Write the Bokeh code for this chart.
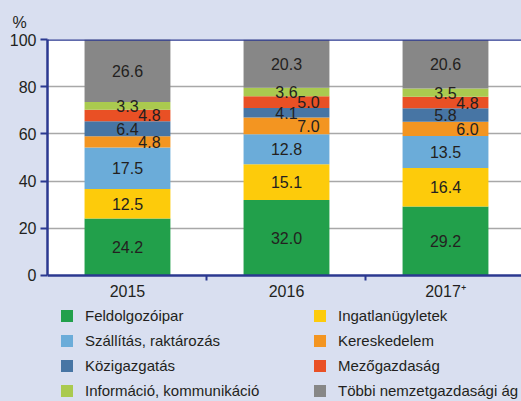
import numpy as np
import pandas as pd
from bokeh.plotting import figure
from bokeh.models import (ColumnDataSource, Legend, LegendItem, FixedTicker,
                          Range1d, Span, BoxAnnotation)
from bokeh.embed import file_html
from bokeh.resources import INLINE
from bokeh.core.properties import value

# ---------------- data ----------------
years = ["2015", "2016", "2017⁺"]
sectors = ["Feldolgozóipar", "Ingatlanügyletek", "Szállítás, raktározás",
           "Kereskedelem", "Közigazgatás", "Mezőgazdaság",
           "Információ, kommunikáció", "Többi nemzetgazdasági ág"]
feldolgozoipar = [24.2, 32.0, 29.2]
ingatlanugyletek = [12.5, 15.1, 16.4]
szallitas = [17.5, 12.8, 13.5]
kereskedelem = [4.8, 7.0, 6.0]
kozigazgatas = [6.4, 4.1, 5.8]
mezogazdasag = [4.8, 5.0, 4.8]
informacio = [3.3, 3.6, 3.5]
tobbi = [26.6, 20.3, 20.6]
y_ticks = [0, 20, 40, 60, 80, 100]

series = [feldolgozoipar, ingatlanugyletek, szallitas, kereskedelem,
          kozigazgatas, mezogazdasag, informacio, tobbi]
colors = ["#22A04B", "#FDCB0B", "#6BACD9", "#F39521",
          "#4775A4", "#E95025", "#AACA4F", "#878787"]
shifted = {"Kereskedelem", "Mezőgazdaság"}

FONT = "Liberation Sans"
AXIS = "#2B3990"
BG = "#D9DFF0"
TXT = "#231F20"

xs = list(range(len(years)))
keys = [f"s{i}" for i in range(len(series))]
data = {"x": xs}
for k, s in zip(keys, series):
    data[k] = s
src = ColumnDataSource(data)

# label positions
lx, ly, lt, lo = [], [], [], []
bottom = np.zeros(len(years))
for name, s in zip(sectors, series):
    arr = np.array(s)
    for j in xs:
        lx.append(j)
        ly.append(bottom[j] + arr[j] / 2)
        lt.append(f"{arr[j]:.1f}")
        lo.append(22 if name in shifted else 0)
    bottom += arr
lsrc = ColumnDataSource(dict(x=lx, y=ly, text=lt, xoff=lo))

# frame: top at y=39px, 2.36 px per unit, runs to the bottom of the canvas
p = figure(width=521, height=401, output_backend="svg", toolbar_location=None,
           x_range=Range1d(-0.503, 2.478), y_range=Range1d(-53.39, 100),
           min_border_left=47, min_border_top=39, min_border_bottom=0,
           min_border_right=0, title="%")
p.background_fill_color = BG
p.border_fill_color = BG
p.outline_line_color = None

p.title.align = "left"
p.title.offset = -35
p.title.standoff = 18
p.title.text_font = FONT
p.title.text_font_size = "16px"
p.title.text_font_style = "normal"
p.title.text_color = TXT

# white plotting area 0..100
p.add_layout(BoxAnnotation(bottom=y_ticks[0], top=y_ticks[-1], fill_color="white",
                           fill_alpha=1, line_alpha=0, level="image"))

rends = p.vbar_stack(keys, x="x", width=0.54, color=colors, line_width=0,
                     source=src)

p.text(x="x", y="y", text="text", x_offset="xoff", source=lsrc,
       text_align="center", text_baseline="middle",
       text_font=value(FONT), text_font_size="16px", text_color=TXT)

# grid
p.xgrid.visible = False
p.ygrid.ticker = FixedTicker(ticks=y_ticks[1:-1])
p.ygrid.grid_line_color = "#A8A8A8"
p.ygrid.grid_line_width = 1.5

# top border
p.add_layout(Span(location=y_ticks[-1], dimension="width",
                  line_color=AXIS, line_width=2.5))

# y axis
ya = p.yaxis[0]
ya.ticker = FixedTicker(ticks=y_ticks, minor_ticks=[])
ya.bounds = (y_ticks[0], y_ticks[-1])
ya.axis_line_color = AXIS
ya.axis_line_width = 2.5
ya.major_tick_line_color = AXIS
ya.major_tick_line_width = 2
ya.major_tick_out = 7
ya.major_tick_in = 0
ya.minor_tick_line_color = None
ya.major_label_standoff = 4
ya.major_label_text_font = FONT
ya.major_label_text_font_size = "16px"
ya.major_label_text_color = TXT

# x axis at y = 0
xa = p.xaxis[0]
xa.fixed_location = y_ticks[0]
xa.ticker = FixedTicker(ticks=xs, minor_ticks=[x + 0.5 for x in xs])
xa.major_label_overrides = {x: y for x, y in zip(xs, years)}
xa.axis_line_color = AXIS
xa.axis_line_width = 2.5
xa.major_tick_line_color = None
xa.major_tick_out = 0
xa.major_tick_in = 0
xa.minor_tick_line_color = AXIS
xa.minor_tick_line_width = 2
xa.minor_tick_out = 5
xa.minor_tick_in = 0
xa.major_label_standoff = 3
xa.major_label_text_font = FONT
xa.major_label_text_font_size = "16px"
xa.major_label_text_color = TXT

# legends (two columns)
def make_legend(idx, loc):
    items = [LegendItem(label=sectors[i], renderers=[rends[i]]) for i in idx]
    return Legend(items=items, location=loc, orientation="vertical",
                  background_fill_alpha=0, border_line_alpha=0,
                  padding=0, margin=0, spacing=5,
                  glyph_width=15, glyph_height=15, label_standoff=11,
                  label_text_font=FONT, label_text_font_size="15px",
                  label_text_color=TXT, label_height=20)

p.add_layout(make_legend([0, 2, 4, 6], (12, 1)))
p.add_layout(make_legend([1, 3, 5, 7], (265, 1)))

html = file_html(p, INLINE)
html = html.replace("</head>", f"<style>body{{background:{BG};}}</style></head>", 1)
open("out.html", "w").write(html)
